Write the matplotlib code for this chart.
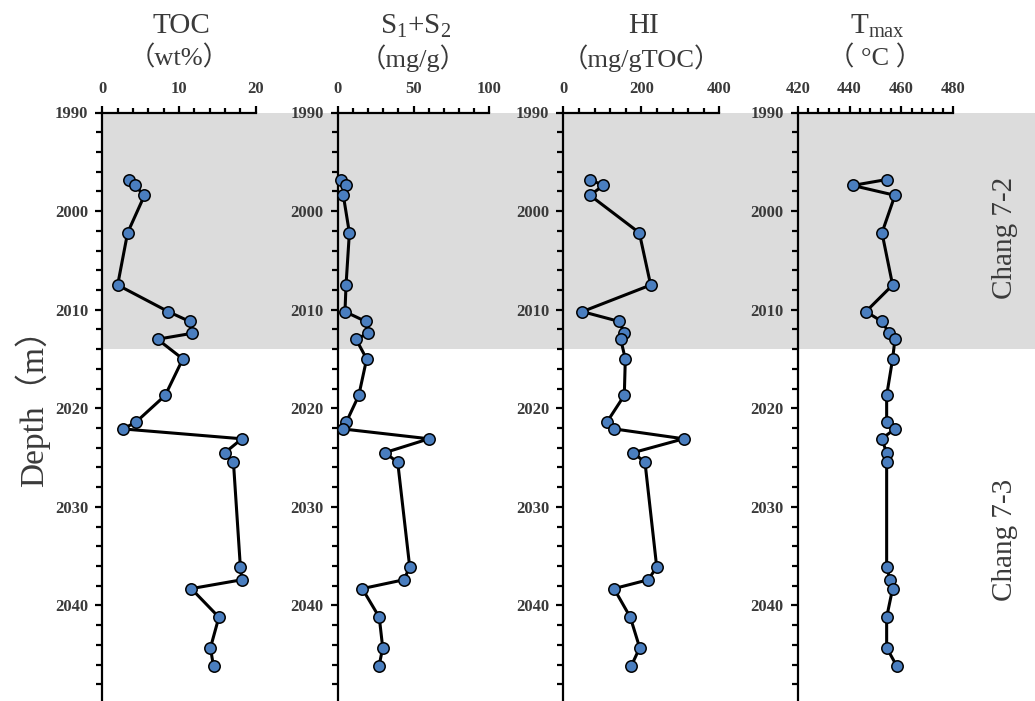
import matplotlib
matplotlib.use("Agg")
import matplotlib.pyplot as plt
from matplotlib.ticker import MultipleLocator

plt.rcParams["mathtext.fontset"] = "custom"
plt.rcParams["mathtext.rm"] = "Liberation Serif"
plt.rcParams["mathtext.it"] = "Liberation Serif"
plt.rcParams["mathtext.bf"] = "Liberation Serif:bold"

# ---------------- data ----------------
depth = [1996.8, 1997.4, 1998.4, 2002.2, 2007.5, 2010.2, 2011.2, 2012.4, 2013.0,
         2015.0, 2018.7, 2021.4, 2022.1, 2023.1, 2024.5, 2025.5, 2036.1, 2037.4,
         2038.3, 2041.2, 2044.3, 2046.2]
toc = [3.5, 4.2, 5.5, 3.3, 2.0, 8.6, 11.4, 11.7, 7.2, 10.5, 8.2, 4.4, 2.7,
       18.2, 16.0, 17.1, 18.0, 18.2, 11.6, 15.2, 14.1, 14.5]
s1s2 = [2.2, 5.5, 3.7, 7.7, 5.5, 4.8, 18.5, 20.0, 12.1, 19.1, 13.9, 5.7, 3.3,
        60.2, 31.2, 39.6, 47.5, 43.7, 16.2, 27.4, 29.7, 27.2]
hi = [68.5, 102.6, 68.5, 194.9, 224.0, 48.7, 143.6, 156.4, 147.2, 159.0, 156.4,
      112.0, 130.8, 308.7, 179.5, 209.5, 239.5, 218.0, 130.0, 171.8, 195.9, 173.6]
tmax = [454.3, 441.2, 457.5, 452.5, 456.6, 446.3, 452.5, 455.3, 457.5, 456.6, 454.3,
        454.3, 457.5, 452.4, 454.3, 454.3, 454.3, 455.6, 456.6, 454.3, 454.3, 458.3]

titles = [("TOC", "（wt%）"), ("S$_1$+S$_2$", "（mg/g）"),
          ("HI", "（mg/gTOC）"), ("T$_{\\rm max}$", "（ °C ）")]
xlims = [(0, 20), (0, 100), (0, 400), (420, 480)]
xmajor = [10, 50, 200, 20]
xminor = [2, 10, 40, 4]
zone_names = ["Chang 7-2", "Chang 7-3"]
zone_boundary = 2014
depth_top, depth_bot = 1990, 2049.7

# ---------------- layout ----------------
W, H = 1035, 701
fig = plt.figure(figsize=(W / 100, H / 100), dpi=100)
serif = ["Liberation Serif", "Noto Sans CJK SC", "DejaVu Sans"]
txt_col = "#3a3a3a"

y_top_px, y_bot_px = 112.5, 701.0
ax_bottom = 1 - y_bot_px / H
ax_height = (y_bot_px - y_top_px) / H

# background shading across the whole figure
bg = fig.add_axes([102.3 / W, ax_bottom, (W - 102.3) / W, ax_height])
bg.set_ylim(depth_bot, depth_top)
bg.axhspan(depth_top, zone_boundary, color="#dcdcdc", lw=0)
bg.axis("off")
bg.set_zorder(0)

panel_px = [(102.3, 255.7), (337.7, 489.3), (563.3, 719.3), (797.7, 953.3)]
series = [toc, s1s2, hi, tmax]

for i, ((x0, x1), vals) in enumerate(zip(panel_px, series)):
    ax = fig.add_axes([x0 / W, ax_bottom, (x1 - x0) / W, ax_height])
    ax.set_zorder(1)
    ax.patch.set_alpha(0)
    ax.plot(vals, depth, color="black", lw=2.2, marker="o", ms=8.2,
            mfc="#4a7ebf", mec="black", mew=1.1, clip_on=False, zorder=3)
    ax.set_xlim(*xlims[i])
    ax.set_ylim(depth_bot, depth_top)
    for s in ("right", "bottom"):
        ax.spines[s].set_visible(False)
    for s in ("left", "top"):
        ax.spines[s].set_linewidth(1.6)
    ax.xaxis.set_ticks_position("top")
    ax.xaxis.set_label_position("top")
    ax.xaxis.set_major_locator(MultipleLocator(xmajor[i]))
    ax.xaxis.set_minor_locator(MultipleLocator(xminor[i]))
    ax.yaxis.set_major_locator(MultipleLocator(10))
    ax.yaxis.set_minor_locator(MultipleLocator(2))
    ax.tick_params(axis="x", which="major", direction="out", length=5, width=1.6, pad=6)
    ax.tick_params(axis="x", which="minor", direction="out", length=3.5, width=1.6)
    ax.tick_params(axis="y", which="major", direction="out", length=5, width=1.6, pad=5)
    ax.tick_params(axis="y", which="minor", direction="out", length=4, width=1.6)
    ax.set_yticks([1990, 2000, 2010, 2020, 2030, 2040])
    for lab in ax.get_xticklabels() + ax.get_yticklabels():
        lab.set_fontfamily(serif)
        lab.set_fontweight("bold")
        lab.set_fontsize(12)
        lab.set_color(txt_col)
    cx = (x0 + x1) / 2 / W
    fig.text(cx + 0.002, 1 - 26 / H, titles[i][0], ha="center", va="center",
             fontsize=21, family=serif, color=txt_col)
    fig.text(cx, 1 - 58 / H, titles[i][1], ha="center", va="center",
             fontsize=19, family=serif, color=txt_col)

fig.text(32 / W, 1 - 400 / H, "Depth（m）", rotation=90, ha="center", va="center",
         fontsize=24, family=serif, color=txt_col)
fig.text(1005 / W, 1 - 238 / H, zone_names[0], rotation=90, ha="center", va="center",
         fontsize=21, family=serif, color=txt_col)
fig.text(1005 / W, 1 - 540 / H, zone_names[1], rotation=90, ha="center", va="center",
         fontsize=21, family=serif, color=txt_col)

fig.savefig("out.png", dpi=100)
